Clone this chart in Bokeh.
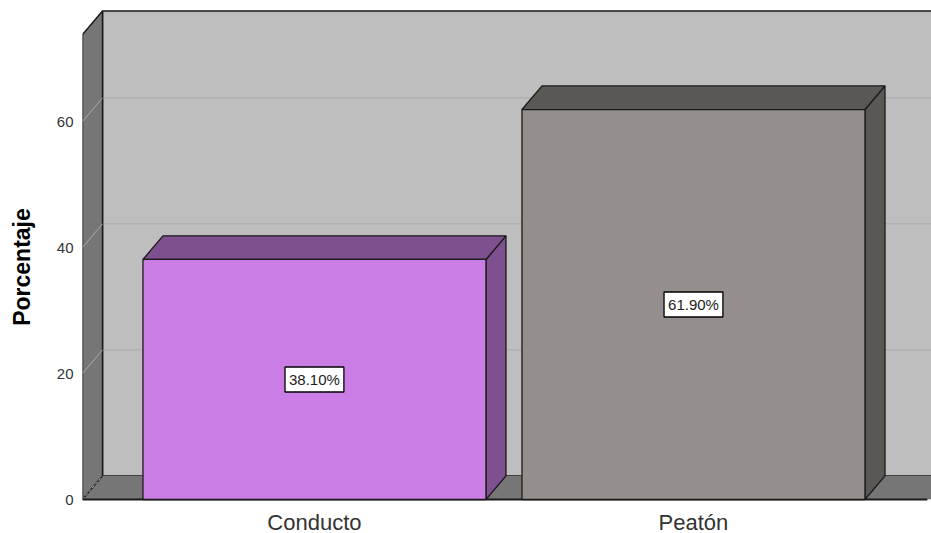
from bokeh.plotting import figure
from bokeh.models import ColumnDataSource, LabelSet, Label, Range1d, FixedTicker
from bokeh.core.properties import value
from bokeh.embed import file_html
from bokeh.resources import INLINE

categories = ["Conducto", "Peatón"]
values = [38.10, 61.90]
labels = ["38.10%", "61.90%"]
y_ticks = [0, 20, 40, 60]
bar_colors = ["#CA7EE5", "#948F8D"]
top_colors = ["#7F5090", "#5A5855"]
wall_color = "#767676"
back_color = "#BEBEBE"
grid_color = "#ABABAB"

positions = [0, 1]
bar_width = 0.905
depth_x = 0.0528
depth_y = 3.75
wall_top = 73.8
x_start, x_end = -0.612, 1.628
floor_end = 1.617
y_scale = 6.30
y_start = -34 / y_scale
y_end = 499 / y_scale

p = figure(width=931, height=533, output_backend="svg", toolbar_location=None,
           x_range=Range1d(x_start, x_end), y_range=Range1d(y_start, y_end),
           min_border_left=82, min_border_right=0, min_border_top=0, min_border_bottom=0,
           background_fill_color="white", border_fill_color="white", outline_line_color=None)
p.grid.visible = False

OUT = "#1A1A1A"
bx0 = x_start + depth_x
# back wall
p.quad(left=bx0, right=x_end + 1, bottom=depth_y, top=wall_top + depth_y,
       fill_color=back_color, line_color=OUT, line_width=1.5)
# grid on back wall
for t in y_ticks[1:]:
    p.line([bx0, x_end], [t + depth_y, t + depth_y], line_color=grid_color, line_width=1)
# floor
p.patch([x_start, bx0, x_end + 1, floor_end], [0, depth_y, depth_y, 0], fill_color=wall_color, line_color=None)
# left wall
p.patch([x_start, bx0, bx0, x_start], [0, depth_y, wall_top + depth_y, wall_top],
        fill_color=wall_color, line_color=OUT, line_width=1.5)
for t in y_ticks[1:]:
    p.line([x_start, bx0], [t, t + depth_y], line_color=grid_color, line_width=1)
p.line([x_start, bx0], [0, depth_y], line_color=grid_color, line_width=1, line_dash="3 2")
p.line([x_start, floor_end], [0, 0], line_color=OUT, line_width=2)

# bars
for x, v, c, tc in zip(positions, values, bar_colors, top_colors):
    l, r = x - bar_width / 2, x + bar_width / 2
    p.patch([r, r + depth_x, r + depth_x, r], [0, depth_y, v + depth_y, v], fill_color=tc,
            line_color=OUT, line_width=1.3)
    p.patch([l, l + depth_x, r + depth_x, r], [v, v + depth_y, v + depth_y, v], fill_color=tc,
            line_color=OUT, line_width=1.3)
    p.quad(left=l, right=r, bottom=0, top=v, fill_color=c, line_color=OUT, line_width=1.3)

for x, v, t in zip(positions, values, labels):
    p.add_layout(Label(x=x, y=v / 2, text=t, text_align="center", text_baseline="middle",
                       text_font="Liberation Sans", text_font_size="15px", text_color="#222222",
                       background_fill_color="white", border_line_color="black", border_line_width=1.3,
                       padding=4))

# category names: the frame runs to the canvas bottom, so they are drawn below zero
cat_src = ColumnDataSource(dict(x=positions, y=[0, 0], t=categories))
p.add_layout(LabelSet(x="x", y="y", text="t", source=cat_src, y_offset=-23, text_align="center",
                      text_baseline="middle", text_font=value("Liberation Sans"), text_font_size="22px",
                      text_color="#333333"))
p.xaxis.visible = False

p.yaxis.ticker = FixedTicker(ticks=y_ticks)
p.yaxis.axis_label = "Porcentaje"
p.yaxis.axis_label_text_font = "Liberation Sans"
p.yaxis.axis_label_text_font_style = "bold"
p.yaxis.axis_label_text_font_size = "23px"
p.yaxis.axis_label_text_color = "black"
p.yaxis.axis_label_standoff = 19
p.yaxis.major_label_text_font = "Liberation Sans"
p.yaxis.major_label_text_font_size = "15px"
p.yaxis.major_label_text_color = "#333333"
p.yaxis.major_label_standoff = 9
p.yaxis.major_label_orientation = "horizontal"
p.yaxis.axis_line_color = None
p.yaxis.major_tick_line_color = None
p.yaxis.minor_tick_line_color = None
p.yaxis.major_tick_out = 0
p.yaxis.major_tick_in = 0

open("out.html", "w").write(file_html(p, INLINE))
